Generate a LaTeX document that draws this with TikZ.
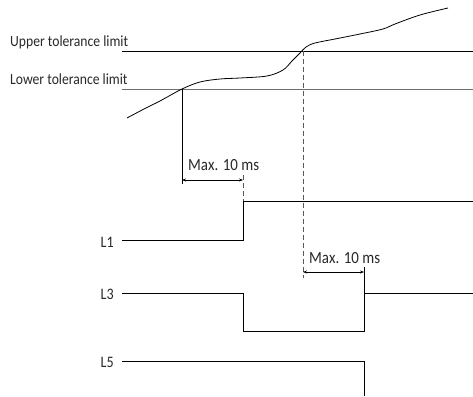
\documentclass[tikz,border=0pt]{standalone}
\usepackage{fontspec}
\setmainfont{Carlito}[FakeStretch=0.88]
\usetikzlibrary{arrows.meta, positioning, calc}
\definecolor{limitgray}{RGB}{110,110,110}
\definecolor{dashgray}{RGB}{90,90,90}
\definecolor{textgray}{RGB}{40,40,40}
\tikzset{
  lbl/.style={font=\fontsize{15.5}{18}\selectfont, text=textgray, inner sep=0pt, anchor=base west},
  maxlbl/.style={lbl, font=\fontsize{17}{19}\selectfont},
  sig/.style={font=\fontsize{16}{18}\selectfont, text=textgray, inner sep=0pt, anchor=base east},
  wave/.style={line width=1pt},
  limit/.style={line width=0.8pt},
  dline/.style={line width=1pt, dashgray, dash pattern=on 5pt off 3pt},
  dim/.style={{Stealth[length=4pt,width=3pt]}-{Stealth[length=4pt,width=3pt]}, line width=0.6pt}
}

\begin{document}
\begin{tikzpicture}[x=1pt, y=-1pt]
  \useasboundingbox (0,0) rectangle (473,396);

  % tolerance limits
  \node[lbl] (upper) at (10,46) {Upper tolerance limit};
  \node[lbl] (lower) at (10,84) {Lower tolerance limit};
  \draw[limit] (122,51) -- (473,51);
  \draw[limit, limitgray] (122,89) -- (473,89);

  % measured value
  \draw[line width=0.8pt] plot[smooth, tension=0.55] coordinates {
    (127,118) (144,109) (160,101) (182,89) (200,82) (220,79) (240,78)
    (267,76) (283,70) (292,61) (300,53) (306,47) (315,43) (335,39)
    (360,34) (383,29) (395,24) (420,15) (448,8)};

  \coordinate (lowcross) at (182,89);
  \coordinate (upcross)  at (303,51);

  % signals
  \node[sig] (l1) at (114,247) {L1};
  \node[sig] (l3) at (114,299) {L3};
  \node[sig] (l5) at (114,367) {L5};

  \coordinate (l1rise) at (243,201);
  \coordinate (l3fall) at (243,331);
  \coordinate (l3rise) at (364,293);
  \coordinate (l5fall) at (364,361);

  \draw[wave] (122,240) -| (l1rise) -- (473,201);
  \draw[wave] (122,293) -| (l3fall) -| (l3rise) -- (473,293);
  \draw[wave] (122,361) -| (364,396);

  % first delay
  \draw[limit] (lowcross) -- (182,184);
  \draw[dline] (243,175) -- (l1rise);
  \coordinate (d1a) at (182,180);
  \coordinate (d1b) at (243,180);
  \draw[dim] (d1a) -- (d1b);
  \node[maxlbl] (max1) at (188,170) {Max. 10 ms};

  % second delay
  \draw[dline] (upcross) -- (303,278);
  \draw[limit] (364,267) -- (l3rise);
  \coordinate (d2a) at (303,272);
  \coordinate (d2b) at (364,272);
  \draw[dim] (d2a) -- (d2b);
  \node[maxlbl] (max2) at (309,263) {Max. 10 ms};
\end{tikzpicture}
\end{document}
